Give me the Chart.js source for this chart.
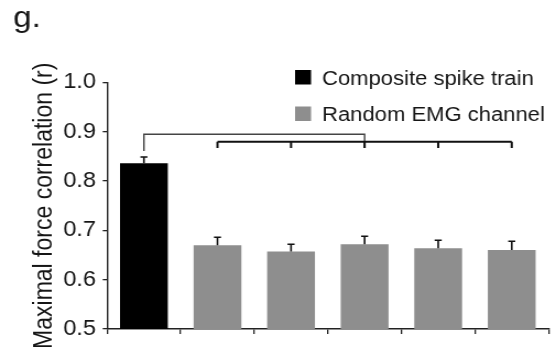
<!DOCTYPE html>
<html>
<head>
<meta charset="utf-8">
<script src="https://cdn.jsdelivr.net/npm/chart.js@4"></script>
<style>
    html, body { margin: 0; padding: 0; background: #fff; overflow: hidden; }
    /* the source figure is slightly stretched sideways, so we stretch the canvas too */
    #wrap { width: 505px; height: 352px; transform: scaleX(1.101); transform-origin: 0 0; }
</style>
</head>
<body>
<div id="wrap"><canvas id="chart"></canvas></div>
<script>
const categories = ['Composite', 'EMG 1', 'EMG 2', 'EMG 3', 'EMG 4', 'EMG 5'];
const compositeValues = [0.836, null, null, null, null, null];
const randomValues = [null, 0.670, 0.657, 0.672, 0.664, 0.660];
const errorValues = [0.013, 0.016, 0.015, 0.016, 0.016, 0.018];
const yTicks = [0.5, 0.6, 0.7, 0.8, 0.9, 1.0];

// significance brackets: which bars, line level, where each leg stops
const upperBracketBars = [0, 3];
const upperBracketLevel = 0.895;
const upperBracketLegEnds = [0.861, 0.867];
const lowerBracketBars = [1, 2, 3, 4, 5];
const lowerBracketLevel = 0.880;
const lowerBracketLegEnd = 0.867;

const FONT = '"Liberation Sans", Arial, sans-serif';
const TEXT = '#151515';

const extrasPlugin = {
    id: 'extras',
    afterDatasetsDraw(chart) {
        const ctx = chart.ctx;
        const x = chart.scales.x, y = chart.scales.y;
        ctx.save();

        // error bars (upper half only)
        ctx.strokeStyle = '#111';
        ctx.lineWidth = 1.6;
        categories.forEach((c, i) => {
            const v = compositeValues[i] ?? randomValues[i];
            const cx = x.getPixelForValue(i);
            const top = y.getPixelForValue(v + errorValues[i]);
            ctx.beginPath();
            ctx.moveTo(cx, y.getPixelForValue(v));
            ctx.lineTo(cx, top);
            ctx.moveTo(cx - 3.2, top);
            ctx.lineTo(cx + 3.2, top);
            ctx.stroke();
        });

        // upper bracket
        ctx.strokeStyle = '#444';
        ctx.lineWidth = 1.4;
        const uy = y.getPixelForValue(upperBracketLevel);
        ctx.beginPath();
        ctx.moveTo(x.getPixelForValue(upperBracketBars[0]), y.getPixelForValue(upperBracketLegEnds[0]));
        ctx.lineTo(x.getPixelForValue(upperBracketBars[0]), uy);
        ctx.lineTo(x.getPixelForValue(upperBracketBars[1]), uy);
        ctx.lineTo(x.getPixelForValue(upperBracketBars[1]), y.getPixelForValue(upperBracketLegEnds[1]));
        ctx.stroke();

        // lower bracket
        ctx.strokeStyle = '#111';
        ctx.lineWidth = 2;
        const ly = y.getPixelForValue(lowerBracketLevel);
        const legEnd = y.getPixelForValue(lowerBracketLegEnd);
        ctx.beginPath();
        ctx.moveTo(x.getPixelForValue(lowerBracketBars[0]), ly);
        ctx.lineTo(x.getPixelForValue(lowerBracketBars[lowerBracketBars.length - 1]), ly);
        lowerBracketBars.forEach(i => {
            const bx = x.getPixelForValue(i);
            ctx.moveTo(bx, ly);
            ctx.lineTo(bx, legEnd);
        });
        ctx.stroke();

        // legend, drawn by hand so it stacks like the figure
        ctx.font = '20px ' + FONT;
        ctx.textBaseline = 'alphabetic';
        chart.data.datasets.forEach((ds, k) => {
            const rowTop = 70 + k * 36.5;
            ctx.fillStyle = ds.backgroundColor;
            ctx.fillRect(268, rowTop, 14.5, 14.5);
            ctx.fillStyle = TEXT;
            ctx.fillText(ds.label, 292.5, rowTop + 14.5);
        });

        // panel letter
        ctx.font = '30px ' + FONT;
        ctx.fillText('g.', 12, 27);
        ctx.restore();
    }
};

new Chart(document.getElementById('chart'), {
    type: 'bar',
    data: {
        labels: categories,
        datasets: [
            { label: 'Composite spike train', data: compositeValues, backgroundColor: '#000000' },
            { label: 'Random EMG channel', data: randomValues, backgroundColor: '#8e8e8e' }
        ]
    },
    options: {
        responsive: true,
        maintainAspectRatio: false,
        animation: false,
        events: [],
        layout: { padding: { top: 82.5, left: 0, right: 6.8, bottom: 0 } },
        datasets: {
            bar: { grouped: false, categoryPercentage: 1, barPercentage: 0.65, borderWidth: 0 }
        },
        plugins: { legend: { display: false }, tooltip: { enabled: false } },
        scales: {
            x: {
                grid: { offset: true, drawOnChartArea: false, tickLength: 5, color: '#222', lineWidth: 1.3 },
                border: { color: '#222', width: 1.4 },
                ticks: { display: false },
                afterFit(scale) { scale.height = 23; }
            },
            y: {
                min: 0.5,
                max: 1.0,
                afterBuildTicks(scale) { scale.ticks = yTicks.map(v => ({ value: v })); },
                grid: { drawOnChartArea: false, tickLength: 4, color: '#222', lineWidth: 1.3 },
                border: { color: '#222', width: 1.4 },
                ticks: {
                    color: TEXT,
                    padding: 6,
                    font: { family: FONT, size: 21.5 },
                    callback: v => v.toFixed(1)
                },
                title: {
                    display: true,
                    text: 'Maximal force correlation (r)',
                    color: TEXT,
                    font: { family: FONT, size: 23 },
                    padding: { top: 27, bottom: 0 }
                },
                afterFit(scale) { scale.width = 97.3; }
            }
        }
    },
    plugins: [extrasPlugin]
});
</script>
</body>
</html>
